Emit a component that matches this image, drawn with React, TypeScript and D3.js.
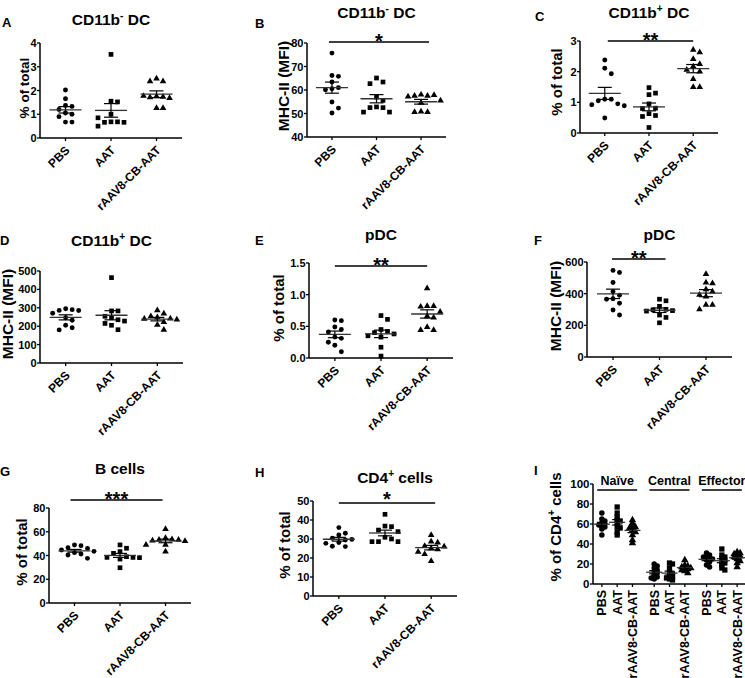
import React from "react";
import * as d3 from "d3";

const groups = ["PBS", "AAT", "rAAV8-CB-AAT"];
const subsets = ["Naïve", "Central", "Effector"];

// A: CD11b- DC, % of total
const aPBS = [2.02, 1.65, 1.37, 1.33, 1.2, 1.05, 1.0, 0.9, 0.67, 0.67];
const aAAT = [3.52, 1.55, 1.52, 1.0, 0.68, 0.68, 0.66, 0.66, 0.5, 0.85];
const aRAAV = [2.5, 2.39, 2.39, 1.75, 1.73, 1.71, 1.68, 1.26, 1.26, 1.77];

// B: CD11b- DC, MHC-II MFI
const bPBS = [75.7, 66.2, 65.8, 63.4, 61, 60.5, 60.1, 54.9, 52.3, 50.2];
const bAAT = [65.1, 63.4, 62.7, 57, 55.6, 52.8, 52.5, 52.5, 50.6, 50.6];
const bRAAV = [58, 57.5, 57.5, 57.8, 57.2, 55.5, 54.5, 50.8, 50.6, 50.6];

// C: CD11b+ DC, % of total
const cPBS = [2.38, 2.11, 1.93, 1.1, 1.1, 1.05, 0.95, 0.92, 0.89, 0.49];
const cAAT = [1.48, 1.3, 1.25, 0.95, 0.81, 0.8, 0.63, 0.57, 0.54, 0.18];
const cRAAV = [2.71, 2.63, 2.41, 2.25, 2.17, 2.06, 2.0, 1.76, 1.5, 1.5];

// D: CD11b+ DC, MHC-II MFI
const dPBS = [295, 290, 286, 285, 270, 246, 232, 205, 192, 180];
const dAAT = [464, 283, 283, 254, 246, 235, 228, 215, 205, 181];
const dRAAV = [286, 268, 254, 248, 242, 240, 236, 222, 208, 180];

// E: pDC, % of total
const ePBS = [0.6, 0.59, 0.49, 0.45, 0.41, 0.33, 0.31, 0.25, 0.2, 0.1];
const eAAT = [0.67, 0.61, 0.45, 0.42, 0.4, 0.38, 0.35, 0.33, 0.17, 0.03];
const eRAAV = [1.1, 0.82, 0.82, 0.81, 0.73, 0.66, 0.64, 0.49, 0.44, 0.44];

// F: pDC, MHC-II MFI
const fPBS = [547, 534, 470, 413, 390, 368, 365, 339, 297, 265];
const fAAT = [365, 355, 320, 301, 298, 293, 290, 265, 250, 216];
const fRAAV = [524, 470, 466, 428, 413, 392, 381, 329, 329, 301];

// G: B cells, % of total
const gPBS = [48.9, 48.3, 46.5, 46, 44.7, 43.5, 42.4, 41.3, 40.4, 37.6];
const gAAT = [48.9, 46.1, 43.3, 41.8, 39, 38.4, 38.4, 38.2, 37, 29.7];
const gRAAV = [62.2, 54.6, 53.7, 53.1, 53.1, 52.6, 52.2, 49, 48.9, 43.3];

// H: CD4+ cells, % of total
const hPBS = [36, 33, 32.1, 30.4, 29.8, 29.5, 28.1, 27.7, 26.2, 26];
const hAAT = [43, 36.8, 36.5, 34.7, 33.9, 30.9, 30, 28.6, 28.6, 28.6];
const hRAAV = [32.1, 28.6, 28.1, 26.3, 26, 25.1, 24.6, 23.3, 22, 18.4];

// I: % of CD4+ cells by subset
const iNaive = [
  [71, 65, 63, 61, 60, 59, 58, 57, 55, 49],
  [77, 71, 67, 64, 63, 61, 57, 56, 52, 49],
  [64, 61, 58, 57, 56, 54, 52, 49, 44, 41],
];
const iCentral = [
  [20, 18, 16, 14, 12, 11, 9, 7, 6, 5],
  [21, 20, 16, 12, 10, 8, 7, 6, 5, 4],
  [24, 19, 18, 17, 16, 16, 15, 14, 13, 11],
];
const iEffector = [
  [31, 29, 27, 27, 26, 25, 24, 22, 19, 17],
  [35, 29, 27, 26, 24, 22, 21, 19, 16, 14],
  [32, 31, 30, 29, 28, 27, 25, 23, 21, 17],
];

const FONT = "'Liberation Sans', Arial, sans-serif";
const symbolTypes = [d3.symbolCircle, d3.symbolSquare, d3.symbolTriangle];

function swarm(vals: number[], y: (v: number) => number, step: number) {
  const placed: { x: number; y: number }[] = [];
  return vals.map((v) => {
    const py = y(v);
    for (let k = 0; k < 50; k++) {
      const off = k === 0 ? 0 : (k % 2 ? 1 : -1) * Math.ceil(k / 2) * step;
      if (placed.every((q) => Math.hypot(q.x - off, q.y - py) >= step)) {
        placed.push({ x: off, y: py });
        return off;
      }
    }
    return 0;
  });
}

type Seg = { t: string; sup?: boolean };

const Title = ({ x, y, segs, size = 15.5 }: { x: number; y: number; segs: Seg[]; size?: number }) => (
  <text x={x} y={y} textAnchor="middle" fontSize={size} fontWeight="bold" fontFamily={FONT}>
    {segs.map((s, i) => {
      const prevSup = i > 0 && segs[i - 1].sup;
      return (
        <tspan key={i} dy={s.sup ? -6 : prevSup ? 6 : 0} fontSize={s.sup ? size * 0.65 : size}>
          {s.t}
        </tspan>
      );
    })}
  </text>
);

const Dots = ({ vals, cx, y, idx, size, step, meanW, capW }: any) => {
  const offs = swarm(vals, y, step);
  const m = d3.mean(vals) as number;
  const sem = (d3.deviation(vals) as number) / Math.sqrt(vals.length);
  const sym = d3.symbol(symbolTypes[idx], size);
  return (
    <g>
      {vals.map((v: number, i: number) => (
        <path key={i} d={sym() as string} transform={`translate(${cx + offs[i]},${y(v)})`} fill="#000" />
      ))}
      <line x1={cx - meanW} x2={cx + meanW} y1={y(m)} y2={y(m)} stroke="#333" strokeWidth={1.3} />
      <line x1={cx} x2={cx} y1={y(m - sem)} y2={y(m + sem)} stroke="#000" strokeWidth={1.2} />
      <line x1={cx - capW} x2={cx + capW} y1={y(m + sem)} y2={y(m + sem)} stroke="#000" strokeWidth={1.2} />
      <line x1={cx - capW} x2={cx + capW} y1={y(m - sem)} y2={y(m - sem)} stroke="#000" strokeWidth={1.2} />
    </g>
  );
};

const Panel = ({ p }: { p: any }) => {
  const y = d3.scaleLinear().domain(p.domain).range([p.yBot, p.yTop]);
  const x = d3.scalePoint<string>().domain(groups).range([p.x0, p.x1]).padding(0.56);
  const fmt = p.fmt ? d3.format(p.fmt) : (d: number) => String(d);
  const cx = (p.x0 + p.x1) / 2 + (p.titleDx || 0);
  return (
    <g fontFamily={FONT}>
      <text x={p.letter[0]} y={p.letter[1]} fontSize={13} fontWeight="bold">{p.id}</text>
      <Title x={cx} y={p.titleY} segs={p.title} />
      <text
        transform={`translate(${p.ylab[0]},${p.ylab[1]}) rotate(-90)`}
        textAnchor="middle"
        fontSize={p.ylabSize || 15}
        fontWeight="bold"
      >
        {p.ylabel}
      </text>
      <line x1={p.x0} x2={p.x0} y1={p.yTop} y2={p.yBot} stroke="#000" strokeWidth={1.5} />
      <line x1={p.x0} x2={p.x1} y1={p.yBot} y2={p.yBot} stroke="#000" strokeWidth={1.5} />
      {p.ticks.map((t: number) => (
        <g key={t}>
          <line x1={p.x0 - 3} x2={p.x0} y1={y(t)} y2={y(t)} stroke="#000" strokeWidth={1.3} />
          <text x={p.x0 - 3.5} y={y(t) + 4} textAnchor="end" fontSize={11} fontWeight="bold">
            {fmt(t)}
          </text>
        </g>
      ))}
      {groups.map((g) => (
        <g key={g}>
          <line x1={x(g)} x2={x(g)} y1={p.yBot} y2={p.yBot + 3} stroke="#000" strokeWidth={1.3} />
          <text
            transform={`translate(${(x(g) as number) + 5},${p.yBot + 13}) rotate(-45)`}
            textAnchor="end"
            fontSize={12}
            fontWeight="bold"
          >
            {g}
          </text>
        </g>
      ))}
      {p.data.map((vals: number[], i: number) => (
        <Dots key={i} vals={vals} cx={x(groups[i])} y={y} idx={i} size={i === 1 ? 22 : 19} step={6.5} meanW={16} capW={7} />
      ))}
      {p.sig && (
        <g>
          <line
            x1={(x(groups[p.sig.a]) as number) + p.sig.pad[0]}
            x2={(x(groups[p.sig.b]) as number) + p.sig.pad[1]}
            y1={p.sig.y}
            y2={p.sig.y}
            stroke="#000"
            strokeWidth={1.5}
          />
          <text
            x={((x(groups[p.sig.a]) as number) + p.sig.pad[0] + (x(groups[p.sig.b]) as number) + p.sig.pad[1]) / 2}
            y={p.sig.y + (p.sig.dy ?? 5.5)}
            textAnchor="middle"
            fontSize={20}
            fontWeight="bold"
          >
            {p.sig.stars}
          </text>
        </g>
      )}
    </g>
  );
};

const sup = (a: string, b: string, c: string): Seg[] => [{ t: a }, { t: b, sup: true }, { t: c }];

const panels = [
  { id: "A", title: sup("CD11b", "-", " DC"), data: [aPBS, aAAT, aRAAV], x0: 40, x1: 182, yTop: 43, yBot: 138,
    domain: [0, 4], ticks: [0, 1, 2, 3, 4], ylabel: "% of total", ylab: [29, 88], ylabSize: 13.5, titleY: 25, letter: [2, 27] },
  { id: "B", title: sup("CD11b", "-", " DC"), data: [bPBS, bAAT, bRAAV], x0: 307, x1: 446, yTop: 43, yBot: 137,
    domain: [40, 80], ticks: [40, 50, 60, 70, 80], ylabel: "MHC-II (MFI)", ylab: [289, 86], ylabSize: 15.5, titleY: 18, letter: [255, 28],
    sig: { a: 0, b: 2, y: 42, pad: [-3, 8], stars: "*" } },
  { id: "C", title: sup("CD11b", "+", " DC"), data: [cPBS, cAAT, cRAAV], x0: 580, x1: 718, yTop: 41, yBot: 133,
    domain: [0, 3], ticks: [0, 1, 2, 3], ylabel: "% of total", ylab: [562, 82], titleY: 18, letter: [535, 21],
    sig: { a: 0, b: 2, y: 41, pad: [3, 0], stars: "**" } },
  { id: "D", title: sup("CD11b", "+", " DC"), data: [dPBS, dAAT, dRAAV], x0: 40, x1: 183, yTop: 271, yBot: 363,
    domain: [0, 500], ticks: [0, 100, 200, 300, 400, 500], ylabel: "MHC-II (MFI)", ylab: [13, 314], ylabSize: 15.5, titleY: 246, letter: [0, 245] },
  { id: "E", title: [{ t: "pDC" }], data: [ePBS, eAAT, eRAAV], x0: 309, x1: 453, yTop: 263, yBot: 358,
    domain: [0, 1.5], ticks: [0, 0.5, 1, 1.5], fmt: ".1f", ylabel: "% of total", ylab: [284, 308], titleY: 240, letter: [255, 245],
    sig: { a: 0, b: 2, y: 266, pad: [0, 0], stars: "**" } },
  { id: "F", title: [{ t: "pDC" }], data: [fPBS, fAAT, fRAAV], x0: 587, x1: 732, yTop: 262, yBot: 357,
    domain: [0, 600], ticks: [0, 200, 400, 600], ylabel: "MHC-II (MFI)", ylab: [561, 306], ylabSize: 15.5, titleY: 240, letter: [534, 245],
    sig: { a: 0, b: 1, y: 259, pad: [-1, 6], stars: "**" } },
  { id: "G", title: [{ t: "B cells" }], data: [gPBS, gAAT, gRAAV], x0: 49, x1: 191, yTop: 508, yBot: 603,
    domain: [0, 80], ticks: [0, 20, 40, 60, 80], ylabel: "% of total", ylab: [27, 552], titleY: 474, letter: [0, 476],
    sig: { a: 0, b: 2, y: 500, pad: [-4, -3], stars: "***" } },
  { id: "H", title: sup("CD4", "+", " cells"), data: [hPBS, hAAT, hRAAV], x0: 313, x1: 457, yTop: 501, yBot: 596,
    domain: [0, 50], ticks: [0, 10, 20, 30, 40, 50], ylabel: "% of total", ylab: [290, 545], titleY: 483, titleDx: 10, letter: [255, 477],
    sig: { a: 0, b: 2, y: 503, pad: [0, 4], stars: "*", dy: 2.5 } },
];

const PanelI = () => {
  const x0 = 593, yTop = 484, yBot = 584;
  const y = d3.scaleLinear().domain([0, 100]).range([yBot, yTop]);
  const gx = d3.scaleBand<string>().domain(subsets).range([591, 748]);
  const ix = d3.scalePoint<string>().domain(groups).range([-15.3, 15.3]);
  const sets = [iNaive, iCentral, iEffector];
  return (
    <g fontFamily={FONT}>
      <text x={534} y={475} fontSize={13} fontWeight="bold">I</text>
      <text transform={`translate(561,527) rotate(-90)`} textAnchor="middle" fontSize={15} fontWeight="bold">
        % of CD4<tspan dy={-6} fontSize={10}>+</tspan><tspan dy={6}> cells</tspan>
      </text>
      <line x1={x0} x2={x0} y1={yTop} y2={yBot} stroke="#000" strokeWidth={1.5} />
      <line x1={x0} x2={750} y1={yBot} y2={yBot} stroke="#000" strokeWidth={1.5} />
      {[0, 20, 40, 60, 80, 100].map((t) => (
        <g key={t}>
          <line x1={x0 - 3} x2={x0} y1={y(t)} y2={y(t)} stroke="#000" strokeWidth={1.3} />
          <text x={x0 - 3.5} y={y(t) + 4} textAnchor="end" fontSize={11.5} fontWeight="bold">{t}</text>
        </g>
      ))}
      {subsets.map((s, si) => {
        const c = (gx(s) as number) + gx.bandwidth() / 2;
        return (
          <g key={s}>
            <text x={c} y={485} textAnchor="middle" fontSize={12.5} fontWeight="bold">{s}</text>
            <line x1={c - 20} x2={c + 20} y1={490} y2={490} stroke="#000" strokeWidth={1.5} />
            {groups.map((g, gi) => {
              const px = c + (ix(g) as number);
              return (
                <g key={g}>
                  <line x1={px} x2={px} y1={yBot} y2={yBot + 3} stroke="#000" strokeWidth={1.3} />
                  <text transform={`translate(${px + 4.5},${yBot + 6}) rotate(-90)`} textAnchor="end" fontSize={12.5} fontWeight="bold">
                    {g}
                  </text>
                  <Dots vals={sets[si][gi]} cx={px} y={y} idx={gi} size={gi === 1 ? 28 : 24} step={3} meanW={8} capW={5} />
                </g>
              );
            })}
          </g>
        );
      })}
    </g>
  );
};

export default function App() {
  return (
    <svg width={745} height={678} style={{ position: "absolute", left: 0, top: 0, background: "#fff" }}>
      <rect width={745} height={678} fill="#fff" />
      {panels.map((p) => (
        <Panel key={p.id} p={p} />
      ))}
      <PanelI />
    </svg>
  );
}
